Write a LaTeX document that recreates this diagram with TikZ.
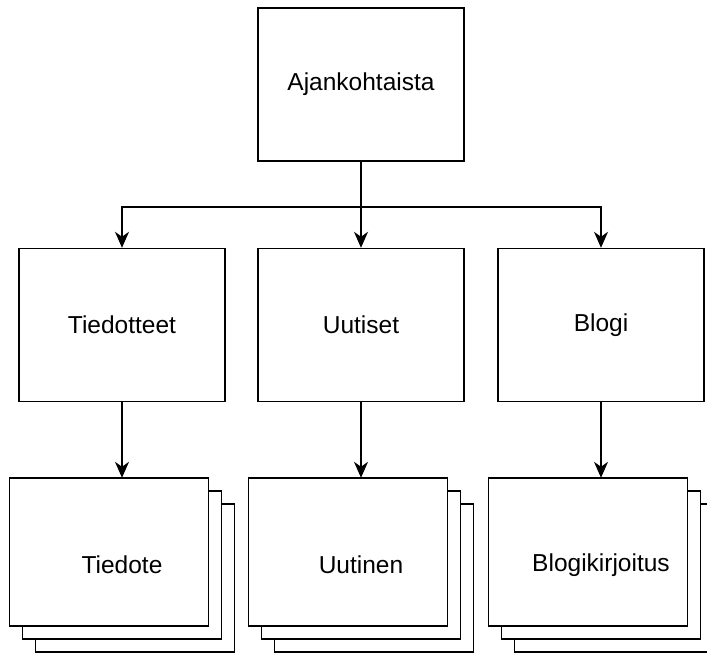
\documentclass[tikz,border=0pt]{standalone}
\usepackage{fontspec}
\setmainfont{Liberation Sans}
\usetikzlibrary{arrows.meta}
\begin{document}
\begin{tikzpicture}[x=1pt,y=-1pt,
  lbl/.style={font=\fontsize{24.5}{29}\selectfont, text=black},
  box/.style={draw=black, line width=1.4pt, fill=white, minimum width=206pt, minimum height=153pt, inner sep=0pt, lbl},
  sheet/.style={draw=black, line width=1.4pt, fill=white, minimum width=199pt, minimum height=148pt, inner sep=0pt},
  stacklabel/.style={minimum width=225pt, minimum height=174pt, inner sep=0pt, lbl},
  conn/.style={draw=black, line width=1.4pt, -{Stealth[length=16pt,width=14pt,inset=5pt]}}]
\useasboundingbox (0,0) rectangle (707,655);
\clip (0,0) rectangle (707,655);

% top
\node[box] (top) at (361,84.5) {Ajankohtaista};

% middle row
\node[box] (tiedotteet) at (122,325) {Tiedotteet};
\node[box] (uutiset) at (361,325) {Uutiset};
\node[box] (blogi) at (601,325) {Blogi};

% stacks
\foreach \cx/\nm in {122/s1, 361/s2, 601/s3}{
  \node[sheet] (\nm c) at (\cx+13,578) {};
  \node[sheet] (\nm b) at (\cx,565) {};
  \node[sheet] (\nm a) at (\cx-13,552) {};
}
\node[stacklabel] (tiedote) at (122,565) {Tiedote};
\node[stacklabel] (uutinen) at (361,565) {Uutinen};
\node[stacklabel] (blogikirjoitus) at (601,565) {Blogikirjoitus};

% connectors
\coordinate (split) at (361,207);
\draw[conn] (top.south) -- (uutiset.north);
\draw[conn] (split) -| (tiedotteet.north);
\draw[conn] (split) -| (blogi.north);
\draw[conn] (tiedotteet.south) -- (tiedote.north);
\draw[conn] (uutiset.south) -- (uutinen.north);
\draw[conn] (blogi.south) -- (blogikirjoitus.north);
\end{tikzpicture}
\end{document}
